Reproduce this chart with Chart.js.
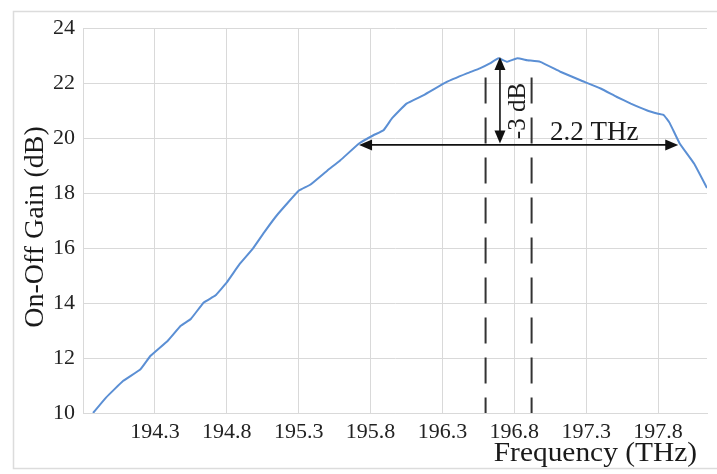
<!DOCTYPE html>
<html>
<head>
<meta charset="utf-8">
<title>On-Off Gain</title>
<script src="https://cdn.jsdelivr.net/npm/chart.js@4.4.1/dist/chart.umd.min.js"></script>
<style>
  body { margin: 0; background: #fff; }
  canvas { display: block; }
</style>
</head>
<body>
<canvas id="gainChart" width="717" height="474"></canvas>
<script>
// measured gain curve
const freqTHz = [193.87, 193.96, 194.08, 194.20, 194.27, 194.39, 194.48, 194.55, 194.64, 194.72,
                 194.80, 194.89, 194.98, 195.06, 195.15, 195.30, 195.38, 195.50, 195.59, 195.72,
                 195.82, 195.89, 195.95, 196.05, 196.17, 196.33, 196.47, 196.56, 196.63, 196.69,
                 196.75, 196.82, 196.89, 196.98, 197.12, 197.26, 197.40, 197.51, 197.61, 197.72,
                 197.80, 197.84, 197.88, 197.95, 198.05, 198.14];
const gainDb = [10.0, 10.56, 11.17, 11.59, 12.08, 12.63, 13.17, 13.42, 14.02, 14.27,
                14.75, 15.42, 15.97, 16.57, 17.20, 18.08, 18.30, 18.82, 19.19, 19.80,
                20.10, 20.28, 20.72, 21.25, 21.56, 22.04, 22.35, 22.53, 22.71, 22.90,
                22.77, 22.90, 22.83, 22.77, 22.41, 22.10, 21.80, 21.50, 21.25, 21.01,
                20.88, 20.83, 20.55, 19.80, 19.07, 18.18];

const freqTicks = [194.3, 194.8, 195.3, 195.8, 196.3, 196.8, 197.3, 197.8];
const gainTicks = [10, 12, 14, 16, 18, 20, 22, 24];

// -3 dB band markers
const markerFreqs = [196.6, 196.92];
const markerTop = 22.2;
const bandEdges = [195.72, 197.94];
const bandGain = 19.75;
const bandLabel = '2.2 THz';
const dropFreq = 196.70;
const dropGains = [22.95, 19.8];
const dropLabel = '-3 dB';

const serif = '"Liberation Serif", "Times New Roman", serif';

const curve = freqTHz.map((f, i) => ({ x: f, y: gainDb[i] }));

const markerSets = markerFreqs.map(f => ({
    data: [{ x: f, y: markerTop }, { x: f, y: gainTicks[0] }],
    borderColor: '#333',
    borderWidth: 2,
    borderDash: [26, 14],
    pointRadius: 0
}));

function arrowHead(ctx, x, y, dx, dy) {
    // filled triangle pointing along (dx, dy), tip at (x, y)
    const len = 13, half = 5.5;
    const px = -dy, py = dx;
    ctx.beginPath();
    ctx.moveTo(x, y);
    ctx.lineTo(x - dx * len + px * half, y - dy * len + py * half);
    ctx.lineTo(x - dx * len - px * half, y - dy * len - py * half);
    ctx.closePath();
    ctx.fill();
}

const annotations = {
    id: 'annotations',
    beforeDraw(chart) {
        const ctx = chart.ctx;
        ctx.save();
        ctx.fillStyle = '#fff';
        ctx.fillRect(0, 0, chart.width, chart.height);
        ctx.strokeStyle = '#dcdcdc';
        ctx.lineWidth = 1.5;
        ctx.strokeRect(13.5, 11.5, chart.width, 457);
        ctx.restore();
    },
    afterDatasetsDraw(chart) {
        const ctx = chart.ctx;
        const xs = chart.scales.x, ys = chart.scales.y;
        ctx.save();
        ctx.strokeStyle = '#111';
        ctx.fillStyle = '#111';
        ctx.lineWidth = 1.6;

        // bandwidth arrow
        const bx1 = xs.getPixelForValue(bandEdges[0]);
        const bx2 = xs.getPixelForValue(bandEdges[1]);
        const by = ys.getPixelForValue(bandGain);
        ctx.beginPath();
        ctx.moveTo(bx1 + 8, by);
        ctx.lineTo(bx2 - 8, by);
        ctx.stroke();
        arrowHead(ctx, bx1, by, -1, 0);
        arrowHead(ctx, bx2, by, 1, 0);

        // gain drop arrow
        const dx = xs.getPixelForValue(dropFreq);
        const dy1 = ys.getPixelForValue(dropGains[0]);
        const dy2 = ys.getPixelForValue(dropGains[1]);
        ctx.beginPath();
        ctx.moveTo(dx, dy1 + 8);
        ctx.lineTo(dx, dy2 - 8);
        ctx.stroke();
        arrowHead(ctx, dx, dy1, 0, -1);
        arrowHead(ctx, dx, dy2, 0, 1);

        ctx.fillStyle = '#1a1a1a';
        ctx.font = '27px ' + serif;
        ctx.textAlign = 'left';
        ctx.textBaseline = 'alphabetic';
        ctx.fillText(bandLabel, 550, 140);

        ctx.save();
        ctx.translate(525, 111);
        ctx.rotate(-Math.PI / 2);
        ctx.font = '25px ' + serif;
        ctx.textAlign = 'center';
        ctx.fillText(dropLabel, 0, 0);
        ctx.restore();

        // axis titles
        ctx.font = '28px ' + serif;
        ctx.textAlign = 'right';
        ctx.save();
        ctx.translate(697, 461);
        ctx.scale(1.05, 1);
        ctx.fillText('Frequency (THz)', 0, 0);
        ctx.restore();
        ctx.save();
        ctx.translate(43, 227);
        ctx.rotate(-Math.PI / 2);
        ctx.textAlign = 'center';
        ctx.fillText('On-Off Gain (dB)', 0, 0);
        ctx.restore();

        ctx.restore();
    }
};

new Chart(document.getElementById('gainChart'), {
    type: 'line',
    data: {
        datasets: [{
            data: curve,
            borderColor: '#5b8fd4',
            borderWidth: 2,
            pointRadius: 0,
            tension: 0.1
        }].concat(markerSets)
    },
    options: {
        responsive: false,
        animation: false,
        devicePixelRatio: 1,
        layout: { padding: { left: 0, top: 28, right: 10, bottom: 0 } },
        plugins: { legend: { display: false }, tooltip: { enabled: false } },
        scales: {
            x: {
                type: 'linear',
                min: 193.8,
                max: 198.14,
                afterBuildTicks: s => { s.ticks = freqTicks.map(v => ({ value: v })); },
                afterFit: s => { s.height = 61; },
                grid: { color: '#d9d9d9', lineWidth: 1, drawTicks: false },
                border: { color: '#d9d9d9' },
                ticks: {
                    padding: 6,
                    maxRotation: 0,
                    autoSkip: false,
                    color: '#222',
                    font: { family: serif, size: 22 },
                    callback: v => v.toFixed(1)
                }
            },
            y: {
                min: 10,
                max: 24,
                afterBuildTicks: s => { s.ticks = gainTicks.map(v => ({ value: v })); },
                afterFit: s => { s.width = 83; },
                grid: { color: '#d9d9d9', lineWidth: 1, drawTicks: false },
                border: { color: '#d9d9d9' },
                ticks: {
                    padding: 8,
                    color: '#222',
                    font: { family: serif, size: 22 }
                }
            }
        }
    },
    plugins: [annotations]
});
</script>
</body>
</html>
